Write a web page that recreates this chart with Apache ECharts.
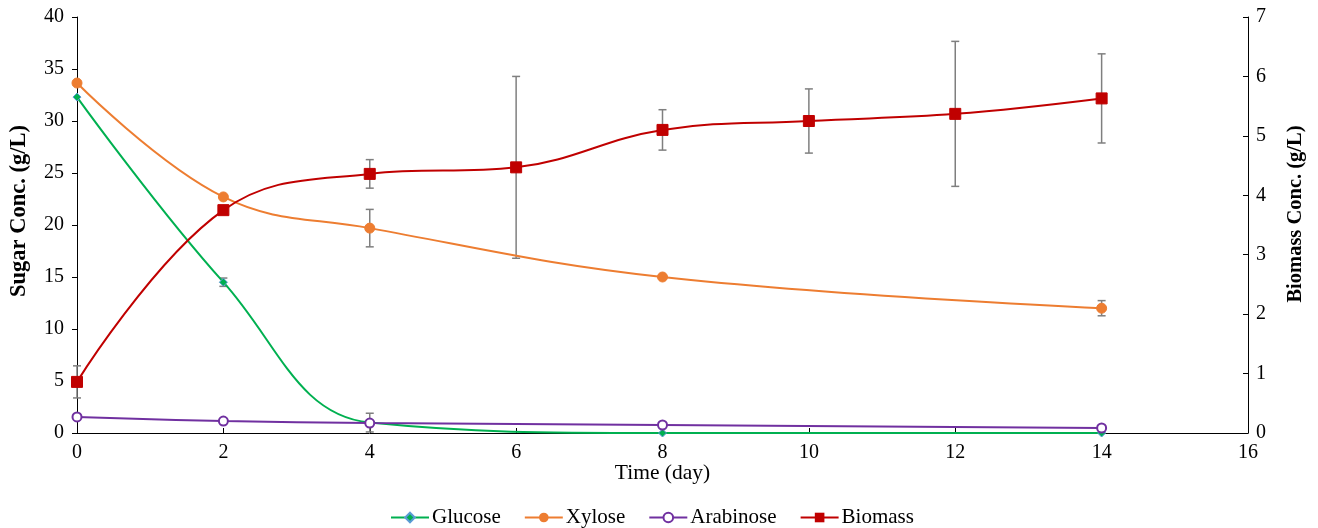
<!DOCTYPE html>
<html>
<head>
<meta charset="utf-8">
<script src="https://cdn.jsdelivr.net/npm/echarts@6/dist/echarts.min.js"></script>
<style>html,body{margin:0;padding:0;background:#fff;}#c{width:1318px;height:528px;}</style>
</head>
<body>
<div id="c"></div>
<script>
const sugarDays = [0, 2, 4, 8, 14];
const glucose = [32.3, 14.5, 1.0, 0.0, 0.0];
const glucoseErr = [0, 0.4, 0.9, 0, 0];
const xylose = [33.65, 22.7, 19.7, 15.0, 12.0];
const xyloseErr = [0, 0, 1.8, 0, 0.73];
const arabinose = [1.54, 1.15, 0.96, 0.77, 0.48];
const biomassDays = [0, 2, 4, 6, 8, 10, 12, 14];
const biomass = [0.86, 3.75, 4.36, 4.47, 5.10, 5.25, 5.37, 5.63];
const biomassErr = [0.27, 0, 0.24, 1.53, 0.34, 0.54, 1.22, 0.75];
const leftTicks = [0, 5, 10, 15, 20, 25, 30, 35, 40];
const rightTicks = [0, 1, 2, 3, 4, 5, 6, 7];
const xTicks = [0, 2, 4, 6, 8, 10, 12, 14, 16];

const FONT = 'Liberation Serif';
const pairs = (xs, ys) => xs.map((x, i) => [x, ys[i]]);
const triples = (xs, ys, es) => xs.map((x, i) => [x, ys[i], es[i]]);

function errRender(params, api) {
  const x = api.value(0), y = api.value(1), e = api.value(2);
  if (!e) return null;
  const t = api.coord([x, y + e]);
  const b = api.coord([x, y - e]);
  const w = 4;
  const st = { stroke: '#7f7f7f', lineWidth: 1.5 };
  return {
    type: 'group',
    children: [
      { type: 'line', shape: { x1: t[0], y1: t[1], x2: b[0], y2: b[1] }, style: st },
      { type: 'line', shape: { x1: t[0] - w, y1: t[1], x2: t[0] + w, y2: t[1] }, style: st },
      { type: 'line', shape: { x1: b[0] - w, y1: b[1], x2: b[0] + w, y2: b[1] }, style: st }
    ]
  };
}

const axisLabelStyle = { fontFamily: FONT, fontSize: 20, color: '#000' };

const chart = echarts.init(document.getElementById('c'), null, { renderer: 'canvas' });
chart.setOption({
  animation: false,
  backgroundColor: '#fff',
  grid: { left: 77, right: 70, top: 17, bottom: 95 },
  legend: {
    data: ['Glucose', 'Xylose', 'Arabinose', 'Biomass'],
    top: 502,
    left: 385,
    itemWidth: 38,
    itemHeight: 12,
    itemGap: 23,
    textStyle: { fontFamily: FONT, fontSize: 21, color: '#000', padding: [0, 0, 0, -2] }
  },
  xAxis: {
    type: 'value', min: 0, max: 16, interval: 2,
    name: 'Time (day)', nameLocation: 'middle', nameGap: 29, nameMoveOverlap: false,
    nameTextStyle: { fontFamily: FONT, fontSize: 21.5, color: '#000' },
    axisLine: { lineStyle: { color: '#000', width: 1 } },
    axisTick: { inside: true, length: 5, lineStyle: { color: '#000' } },
    axisLabel: Object.assign({ margin: 10 }, axisLabelStyle),
    splitLine: { show: false }
  },
  yAxis: [
    {
      type: 'value', min: 0, max: 40, interval: 5, position: 'left',
      name: 'Sugar Conc. (g/L)', nameLocation: 'middle', nameGap: 46,
      nameTextStyle: { fontFamily: FONT, fontSize: 22.5, fontWeight: 'bold', color: '#000', padding: [0, 0, 0, 28] },
      axisLine: { show: true, lineStyle: { color: '#000', width: 1 } },
      axisTick: { show: true, inside: false, length: 5, lineStyle: { color: '#000' } },
      axisLabel: Object.assign({ margin: 13 }, axisLabelStyle),
      splitLine: { show: false }
    },
    {
      type: 'value', min: 0, max: 7, interval: 1, position: 'right',
      name: 'Biomass Conc. (g/L)', nameLocation: 'middle', nameGap: 37,
      nameTextStyle: { fontFamily: FONT, fontSize: 20.5, fontWeight: 'bold', color: '#000', padding: [0, 0, 0, 22] },
      axisLine: { show: true, lineStyle: { color: '#000', width: 1 } },
      axisTick: { show: true, inside: true, length: 5, lineStyle: { color: '#000' } },
      axisLabel: Object.assign({ margin: 8 }, axisLabelStyle),
      splitLine: { show: false }
    }
  ],
  series: [
    {
      name: 'Glucose', type: 'line', smooth: 0.4, yAxisIndex: 0, z: 3,
      data: pairs(sugarDays, glucose),
      symbol: 'diamond', symbolSize: 8,
      lineStyle: { color: '#00b050', width: 2 },
      itemStyle: { color: '#00b050', borderColor: '#5b9bd5', borderWidth: 1 }
    },
    {
      name: 'Xylose', type: 'line', smooth: 0.4, yAxisIndex: 0, z: 3,
      data: pairs(sugarDays, xylose),
      symbol: 'circle', symbolSize: 10,
      lineStyle: { color: '#ed7d31', width: 2 },
      itemStyle: { color: '#ed7d31', borderColor: '#ed7d31' }
    },
    {
      name: 'Arabinose', type: 'line', smooth: 0.4, yAxisIndex: 0, z: 3,
      data: pairs(sugarDays, arabinose),
      symbol: 'emptyCircle', symbolSize: 9,
      lineStyle: { color: '#7030a0', width: 2 },
      itemStyle: { color: '#7030a0', borderColor: '#7030a0', borderWidth: 1.5 }
    },
    {
      name: 'Biomass', type: 'line', smooth: 0.4, yAxisIndex: 1, z: 4,
      data: pairs(biomassDays, biomass),
      symbol: 'rect', symbolSize: 11,
      lineStyle: { color: '#c00000', width: 2 },
      itemStyle: { color: '#c00000', borderColor: '#c00000' }
    },
    {
      name: 'GlucoseErr', type: 'custom', yAxisIndex: 0, z: 2,
      renderItem: errRender, data: triples(sugarDays, glucose, glucoseErr),
      encode: { x: 0, y: 1 }, silent: true
    },
    {
      name: 'XyloseErr', type: 'custom', yAxisIndex: 0, z: 2,
      renderItem: errRender, data: triples(sugarDays, xylose, xyloseErr),
      encode: { x: 0, y: 1 }, silent: true
    },
    {
      name: 'BiomassErr', type: 'custom', yAxisIndex: 1, z: 2,
      renderItem: errRender, data: triples(biomassDays, biomass, biomassErr),
      encode: { x: 0, y: 1 }, silent: true
    }
  ]
});
</script>
</body>
</html>
